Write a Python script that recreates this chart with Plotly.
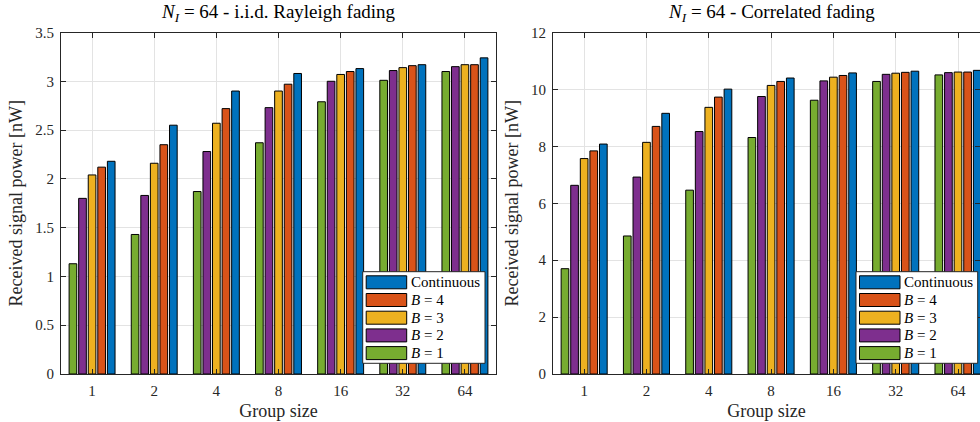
import plotly.graph_objects as go

group_sizes = ["1", "2", "4", "8", "16", "32", "64"]
series_names = ["<i>B</i> = 1", "<i>B</i> = 2", "<i>B</i> = 3", "<i>B</i> = 4", "Continuous"]
colors = ["#77AC30", "#7E2F8E", "#EDB120", "#D95319", "#0072BD"]

# i.i.d. Rayleigh fading (nW)
iid_B1 = [1.13, 1.43, 1.87, 2.37, 2.79, 3.01, 3.10]
iid_B2 = [1.80, 1.83, 2.28, 2.73, 3.00, 3.11, 3.15]
iid_B3 = [2.04, 2.16, 2.57, 2.90, 3.07, 3.14, 3.17]
iid_B4 = [2.12, 2.35, 2.72, 2.97, 3.10, 3.16, 3.17]
iid_cont = [2.18, 2.55, 2.90, 3.08, 3.13, 3.17, 3.24]

# Correlated fading (nW)
cor_B1 = [3.70, 4.85, 6.46, 8.31, 9.62, 10.28, 10.51]
cor_B2 = [6.63, 6.92, 8.52, 9.75, 10.30, 10.53, 10.59]
cor_B3 = [7.57, 8.14, 9.37, 10.14, 10.43, 10.57, 10.61]
cor_B4 = [7.84, 8.70, 9.73, 10.28, 10.49, 10.60, 10.61]
cor_cont = [8.08, 9.16, 10.01, 10.40, 10.58, 10.64, 10.67]

iid = [iid_B1, iid_B2, iid_B3, iid_B4, iid_cont]
cor = [cor_B1, cor_B2, cor_B3, cor_B4, cor_cont]

FONT = "Liberation Serif"
AX = "#262626"
W, H = 980, 422

def px(x):
    return x / W

def py(y):
    return (H - y) / H

fig = go.Figure()
for name, col, vals in zip(series_names, colors, iid):
    fig.add_trace(go.Bar(x=group_sizes, y=vals, name=name, showlegend=False,
                         marker=dict(color=col, line=dict(color="black", width=1)),
                         xaxis="x", yaxis="y"))
for name, col, vals in zip(series_names, colors, cor):
    fig.add_trace(go.Bar(x=group_sizes, y=vals, name=name, showlegend=False,
                         marker=dict(color=col, line=dict(color="black", width=1)),
                         xaxis="x2", yaxis="y2"))

ydom = [py(374), py(32.5)]
common_x = dict(type="category", showline=True, linecolor=AX, linewidth=1, mirror="ticks",
                ticks="inside", ticklen=5, tickcolor=AX, showgrid=True, gridcolor="#e3e3e3",
                automargin=False, ticklabelstandoff=3,
                tickfont=dict(family=FONT, size=15, color=AX),
                title=dict(text="Group size", font=dict(family=FONT, size=18, color=AX), standoff=6))
common_y = dict(showline=True, linecolor=AX, linewidth=1, mirror="ticks",
                ticks="inside", ticklen=5, tickcolor=AX, showgrid=True, gridcolor="#e3e3e3",
                automargin=False, ticklabelstandoff=3,
                zeroline=False, tickfont=dict(family=FONT, size=15, color=AX),
                title=dict(text="Received signal power [nW]", font=dict(family=FONT, size=18, color=AX), standoff=7))

shapes = []
annotations = []

# Custom MATLAB-style legends (box + wide swatches), ordered top to bottom
for left, right in [(362.7, 485.0), (856.0, 977.7)]:
    shapes.append(dict(type="rect", xref="paper", yref="paper", x0=px(left), x1=px(right),
                       y0=py(363.3), y1=py(271.7), fillcolor="white", line=dict(color=AX, width=1), layer="above"))
    for i, idx in enumerate([4, 3, 2, 1, 0]):
        cy = 282.3 + i * 17.7
        shapes.append(dict(type="rect", xref="paper", yref="paper", x0=px(left + 3.5), x1=px(left + 44),
                           y0=py(cy + 6.5), y1=py(cy - 6.5), fillcolor=colors[idx],
                           line=dict(color="black", width=1), layer="above"))
        annotations.append(dict(text=series_names[idx], x=px(left + 46), y=py(cy), xref="paper", yref="paper",
                                showarrow=False, xanchor="left", yanchor="middle",
                                font=dict(family=FONT, size=15, color="black")))

annotations += [
    dict(text="<i>N<sub>I</sub></i> = 64 - i.i.d. Rayleigh fading", x=px((61 + 496) / 2), y=py(13),
         xref="paper", yref="paper", showarrow=False, xanchor="center", yanchor="middle",
         font=dict(family=FONT, size=19, color="black")),
    dict(text="<i>N<sub>I</sub></i> = 64 - Correlated fading", x=px((553 + 989) / 2), y=py(13),
         xref="paper", yref="paper", showarrow=False, xanchor="center", yanchor="middle",
         font=dict(family=FONT, size=19, color="black")),
]

fig.update_layout(
    width=W, height=H, margin=dict(l=0, r=0, t=0, b=0, autoexpand=False),
    paper_bgcolor="white", plot_bgcolor="white",
    barmode="group", bargap=0.23, bargroupgap=0.2,
    xaxis=dict(common_x, domain=[px(61), px(496)], range=[-0.5, 6.5], anchor="y"),
    yaxis=dict(common_y, domain=ydom, range=[0, 3.5], dtick=0.5, tickformat="~g", anchor="x"),
    xaxis2=dict(common_x, domain=[px(553), 1.0], range=[-0.5, 6.353], anchor="y2"),
    yaxis2=dict(common_y, domain=ydom, range=[0, 12], dtick=2, anchor="x2"),
    shapes=shapes,
    annotations=annotations,
    showlegend=False,
)

# remove the browser's default 8px page margin so the figure fills the window exactly
fig.write_html("out.html", config={"displayModeBar": False},
               post_script="document.body.style.margin='0';")
